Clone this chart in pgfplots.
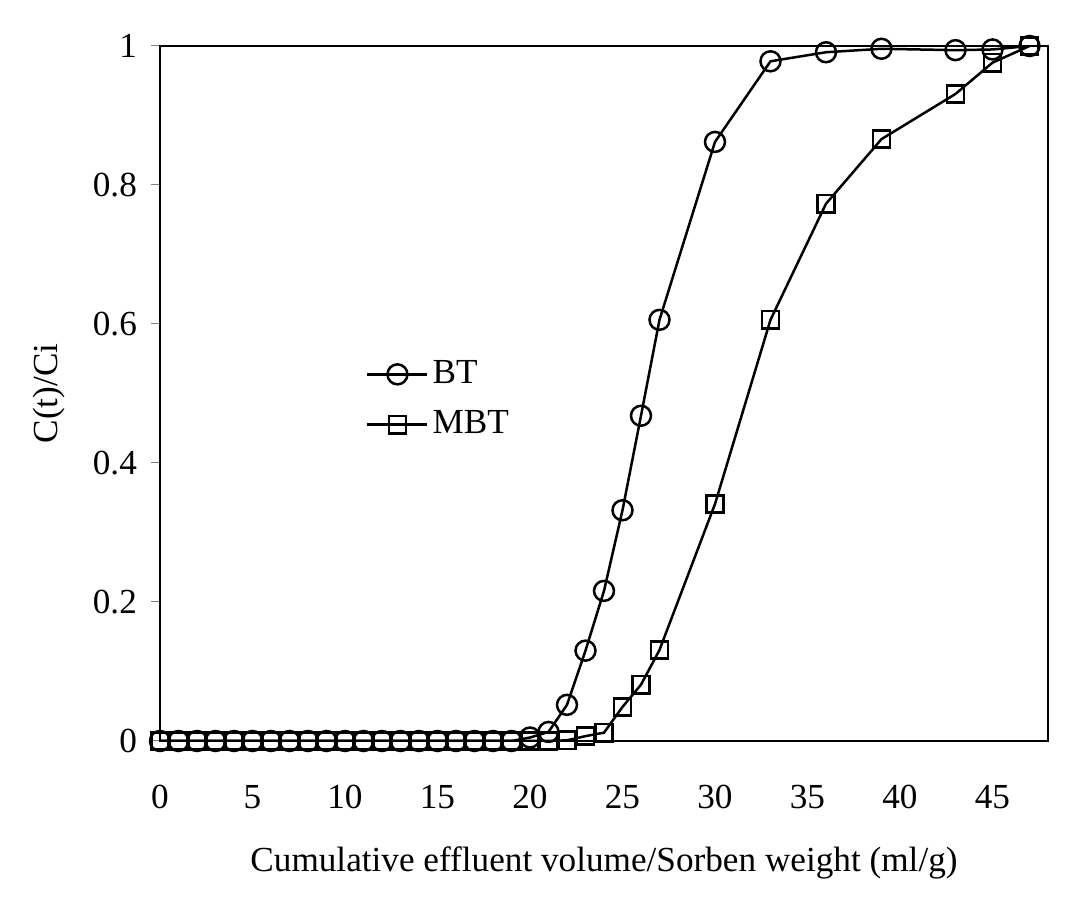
\documentclass[border=0pt]{standalone}
\usepackage{pgfplots}
\pgfplotsset{compat=1.18}
\usepackage{fontspec}
\setmainfont{Liberation Serif}
\newcommand{\chfont}{\fontsize{17.6}{20}\selectfont}
\begin{document}
\chfont
\begin{tikzpicture}
\path[use as bounding box] (-80pt,-79pt) rectangle (460.5pt,370.5pt);
% x ticks only (centered, longer)
\begin{axis}[
  at={(0,0)}, anchor=south west,
  scale only axis, width=444pt, height=347.5pt,
  xmin=0, xmax=48, ymin=0, ymax=1,
  xtick={0,5,...,45}, ytick=\empty,
  axis lines=none,
  tick style={gray, line width=0.5pt},
  xtick pos=bottom, xtick align=center,
  major tick length=10pt,
  xticklabels={},
]
\addplot[draw=none] coordinates {(0,0)};
\end{axis}
\begin{axis}[
  at={(0,0)}, anchor=south west,
  scale only axis, width=444pt, height=347.5pt,
  xmin=0, xmax=48, ymin=0, ymax=1,
  xtick={0,5,...,45}, ytick={0,0.2,...,1},
  axis line style={black, line width=1pt},
  tick style={gray, line width=0.5pt},
  xtick pos=bottom, ytick pos=left,
  x tick style={draw=none},
  ytick align=outside,
  major tick length=4.5pt,
  /pgf/number format/assume math mode=true,
  ticklabel style={font=\chfont},
  xticklabel style={yshift=-16pt},
  yticklabel style={xshift=-1pt},
  yticklabels={0,0.2,0.4,0.6,0.8,1},
  xlabel={Cumulative effluent volume/Sorben weight (ml/g)},
  ylabel={C(t)/Ci},
  label style={font=\chfont},
  xlabel style={yshift=-7pt},
  ylabel style={yshift=2pt},
  legend style={draw=none, fill=none, at={(0.225,0.56)}, anchor=north west,
    font=\chfont, row sep=7pt},
  legend cell align=left,
  legend image code/.code={\draw[mark repeat=2,mark phase=2] plot coordinates {(0pt,0pt) (15pt,0pt) (30pt,0pt)};},
]
\addplot[black, line width=1.25pt, mark=o, mark size=5pt, mark options={solid}] coordinates {
(0,0) (1,0) (2,0) (3,0) (4,0) (5,0) (6,0) (7,0) (8,0) (9,0) (10,0)
(11,0) (12,0) (13,0) (14,0) (15,0) (16,0) (17,0) (18,0) (19,0) (20,0.005)
(21,0.013) (22,0.052) (23,0.13) (24,0.216) (25,0.332) (26,0.468) (27,0.606)
(30,0.862) (33,0.978) (36,0.991) (39,0.996) (43,0.994) (45,0.995) (47,1.0)
};
\addlegendentry{BT}
\addplot[black, line width=1.25pt, mark=square, mark size=4.3pt, mark options={solid}] coordinates {
(0,0) (1,0) (2,0) (3,0) (4,0) (5,0) (6,0) (7,0) (8,0) (9,0) (10,0)
(11,0) (12,0) (13,0) (14,0) (15,0) (16,0) (17,0) (18,0) (19,0) (20,0) (21,0)
(22,0.001) (23,0.007) (24,0.012) (25,0.049) (26,0.081) (27,0.131)
(30,0.341) (33,0.606) (36,0.773) (39,0.866) (43,0.931) (45,0.976) (47,1.0)
};
\addlegendentry{MBT}
\end{axis}
\end{tikzpicture}
\end{document}
